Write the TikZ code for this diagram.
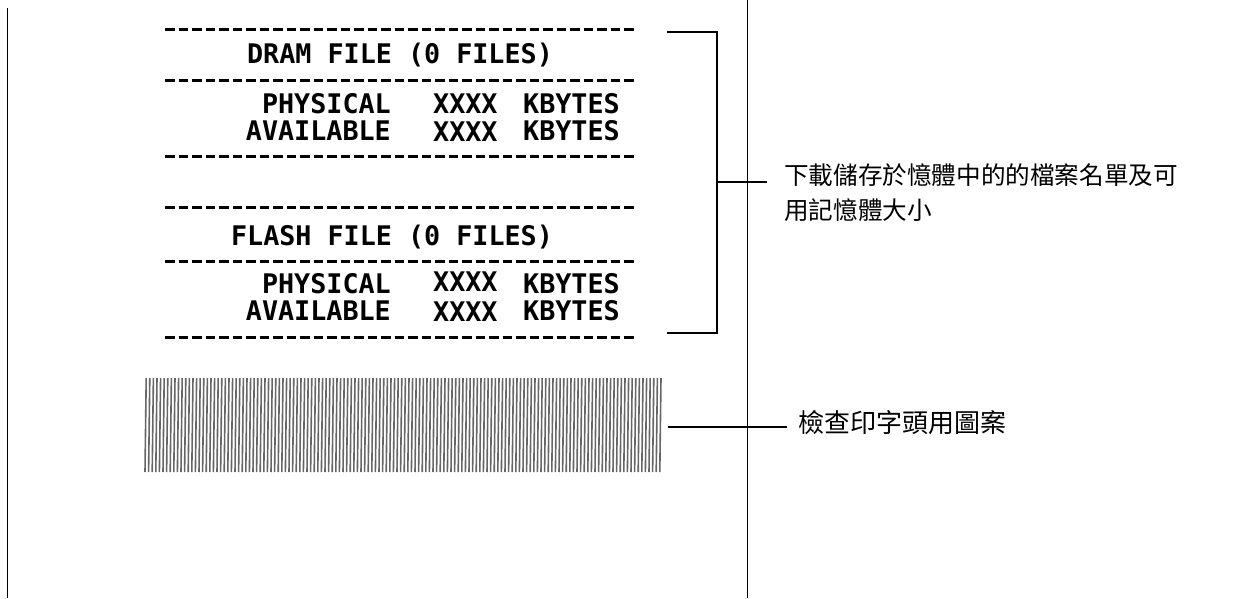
\documentclass[tikz,border=0pt]{standalone}
\usepackage{fontspec}
\newfontfamily\slipfont[FakeStretch=0.99]{DejaVu Sans Mono}
\newfontfamily\cjk{Noto Sans CJK TC}
\definecolor{PrintGray}{rgb}{0.40,0.40,0.40}
\tikzset{
  slip/.style={font=\slipfont\bfseries\fontsize{27}{27}\selectfont,inner sep=0pt},
  tear/.style={line width=3pt,dash pattern=on 9.5pt off 4pt},
  bracketline/.style={line width=1.4pt},
  note/.style={font=\cjk\fontsize{24.6}{35}\selectfont,inner sep=0pt,align=left,anchor=base west},
}
\begin{document}
\begin{tikzpicture}[x=1pt,y=-1pt]
\useasboundingbox (0,0) rectangle (1248,598);
\draw[line width=1pt] (7,8) -- (7,598);
\draw[line width=1pt] (747,0) -- (747,598);

\foreach \y in {29,80,156,207,261,337}
  \draw[tear] (165,\y) -- (637,\y);

\node[slip,anchor=base] (dram) at (400,63) {DRAM FILE (0 FILES)};
\node[slip,anchor=base east] (dphys) at (391,113) {PHYSICAL};
\node[slip,anchor=base east] (davail) at (391,140) {AVAILABLE};
\node[slip,anchor=base west] (dphysx) at (433,113) {XXXX};
\node[slip,anchor=base west] (davailx) at (433,141) {XXXX};
\node[slip,anchor=base west] (dphysk) at (523,113) {KBYTES};
\node[slip,anchor=base west] (davailk) at (523,140) {KBYTES};

\node[slip,anchor=base] (flash) at (392,245) {FLASH FILE (0 FILES)};
\node[slip,anchor=base east] (fphys) at (391,293) {PHYSICAL};
\node[slip,anchor=base east] (favail) at (391,320) {AVAILABLE};
\node[slip,anchor=base west] (fphysx) at (433,291) {XXXX};
\node[slip,anchor=base west] (favailx) at (433,321) {XXXX};
\node[slip,anchor=base west] (fphysk) at (523,293) {KBYTES};
\node[slip,anchor=base west] (favailk) at (523,320) {KBYTES};

\node[minimum width=520pt,minimum height=96pt,inner sep=0pt] (pattern) at (403,425) {};
\foreach \x in {145,148.6,...,662}
  \draw[PrintGray,line width=1.6pt] (\x+1.2,378) -- (\x,472);

\coordinate (btop) at (667,32);
\coordinate (bbot) at (667,333);
\coordinate (bmid) at (717,182);
\draw[bracketline] (btop) -| (bmid) |- (bbot);

\node[note] (memo) at (784,219) {下載儲存於憶體中的的檔案名單及可\\用記憶體大小};
\coordinate (memotick) at (767,182);
\draw[line width=2pt] (bmid) -- (memotick);

\node[note,font=\cjk\fontsize{26}{30}\selectfont] (head) at (798,432) {檢查印字頭用圖案};
\coordinate (headtick) at (787,427);
\draw[line width=1.8pt] (pattern.east |- headtick) ++(5,0) -- (headtick);
\end{tikzpicture}
\end{document}
